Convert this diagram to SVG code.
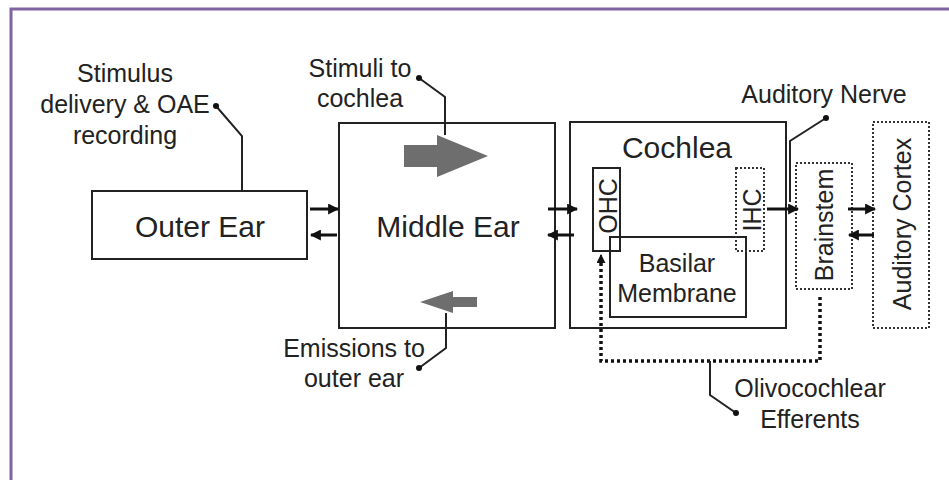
<svg xmlns="http://www.w3.org/2000/svg" width="949" height="480" viewBox="0 0 949 480">
<defs>
<style>
.box{fill:none;stroke:#222;stroke-width:2}
.dbox{fill:none;stroke:#333;stroke-width:2;stroke-dasharray:2 2}
.big{font-family:"Liberation Sans",Arial,sans-serif;font-size:30px;fill:#222;text-anchor:middle}
.sm{font-family:"Liberation Sans",Arial,sans-serif;font-size:25px;fill:#222;text-anchor:middle}
.lead{fill:none;stroke:#222;stroke-width:2}
.arr{stroke:#111;stroke-width:3;fill:none;marker-end:url(#ah)}
.gray{fill:#6e6e6e}
</style>
<marker id="ah" viewBox="0 0 10 10" refX="9" refY="5" markerWidth="11" markerHeight="11" markerUnits="userSpaceOnUse" orient="auto"><path d="M0,0 L10,5 L0,10 z" fill="#111"/></marker>
<marker id="ahs" viewBox="0 0 10 10" refX="9" refY="5" markerWidth="9" markerHeight="9" markerUnits="userSpaceOnUse" orient="auto"><path d="M0,0 L10,5 L0,10 z" fill="#111"/></marker>
</defs>
<rect x="0" y="0" width="949" height="480" fill="#fff"/>
<rect x="11" y="9" width="1000" height="600" fill="none" stroke="#8064a2" stroke-width="3"/>

<g id="outer-ear">
<rect class="box" x="92" y="191" width="215" height="68"/>
<text class="big" x="200" y="237">Outer Ear</text>
</g>
<g id="middle-ear">
<rect class="box" x="339" y="123" width="216" height="205"/>
<text class="big" x="448" y="237">Middle Ear</text>
<polygon class="gray" points="404,145 437,145 437,135 488,156 437,177 437,167 404,167"/>
<polygon class="gray" points="477,297 453,297 453,291 420,302 453,313 453,307 477,307"/>
</g>
<g id="cochlea">
<rect class="box" x="570" y="122" width="216" height="206"/>
<text class="big" x="677" y="158">Cochlea</text>
</g>
<g id="ohc">
<rect class="box" x="593" y="168" width="27" height="83"/>
<text class="sm" transform="translate(617,206) rotate(-90)">OHC</text>
</g>
<g id="basilar-membrane">
<rect class="box" x="610" y="237" width="136" height="80"/>
<text class="sm" x="677" y="272">Basilar</text>
<text class="sm" x="677" y="302">Membrane</text>
</g>
<g id="ihc">
<rect class="dbox" x="736" y="168" width="28" height="83"/>
<text class="sm" transform="translate(761,210) rotate(-90)">IHC</text>
</g>
<g id="brainstem">
<rect class="dbox" x="796" y="163" width="56" height="126"/>
<text class="sm" transform="translate(833,225) rotate(-90)">Brainstem</text>
</g>
<g id="auditory-cortex">
<rect class="dbox" x="873" y="122" width="56" height="206"/>
<text class="sm" transform="translate(911,224) rotate(-90)">Auditory Cortex</text>
</g>

<g id="labels">
<text class="sm" x="125" y="82">Stimulus</text>
<text class="sm" x="125" y="113">delivery &amp; OAE</text>
<text class="sm" x="125" y="144">recording</text>
<text class="sm" x="360" y="77">Stimuli to</text>
<text class="sm" x="360" y="107">cochlea</text>
<text class="sm" x="354" y="357">Emissions to</text>
<text class="sm" x="354" y="387">outer ear</text>
<text class="sm" x="824" y="103">Auditory Nerve</text>
<text class="sm" x="810" y="397">Olivocochlear</text>
<text class="sm" x="810" y="428">Efferents</text>
</g>

<g id="connectors">
<line class="arr" x1="310" y1="209" x2="338" y2="209" stroke-width="4"/>
<line class="arr" x1="337" y1="235" x2="311" y2="235"/>
<line class="arr" x1="548" y1="209" x2="577" y2="209"/>
<line class="arr" x1="574" y1="235" x2="548" y2="235"/>
<line class="arr" x1="767" y1="209" x2="798" y2="209"/>
<line class="arr" x1="848" y1="209" x2="875" y2="209"/>
<line class="arr" x1="874" y1="235" x2="849" y2="235"/>
<polyline fill="none" stroke="#111" stroke-width="3.5" stroke-dasharray="3 3" points="820,297 820,361 601,361 601,262"/>
<line x1="601" y1="264" x2="601" y2="255" stroke="#111" stroke-width="2" marker-end="url(#ahs)"/>
<polyline class="lead" points="216,106 242,136 242,191"/>
<circle cx="216" cy="106" r="3" fill="#111"/>
<polyline class="lead" points="419,78 445,97 445,135"/>
<circle cx="419" cy="78" r="3" fill="#111"/>
<polyline class="lead" points="446,313 446,348 419,368"/>
<circle cx="419" cy="368" r="3" fill="#111"/>
<polyline class="lead" points="826,118 790,141 790,202"/>
<circle cx="826" cy="118" r="3" fill="#111"/>
<polyline class="lead" points="710,361 710,395 736,413"/>
<circle cx="736" cy="413" r="3" fill="#111"/>
</g>
</svg>
